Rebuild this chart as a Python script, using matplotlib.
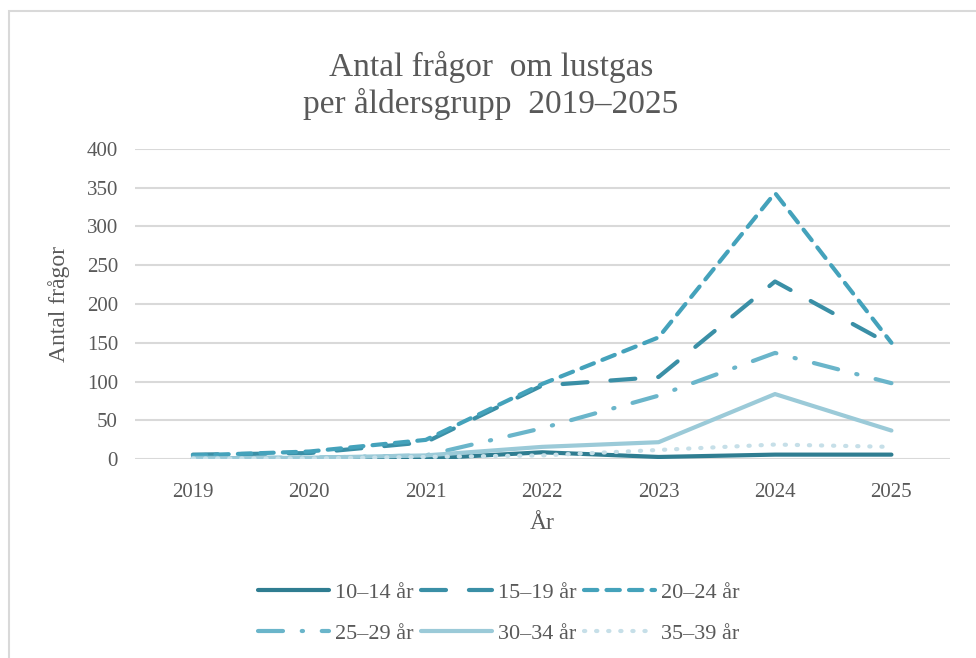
import matplotlib
matplotlib.use("Agg")
import matplotlib.pyplot as plt
from matplotlib.patches import Rectangle

years = ["2019", "2020", "2021", "2022", "2023", "2024", "2025"]
labels = ["10–14 år", "15–19 år", "20–24 år", "25–29 år", "30–34 år", "35–39 år"]
age_10_14 = [1, 1, 1, 9, 3, 6, 6]
age_15_19 = [6, 8, 22, 95, 106, 229, 147]
age_20_24 = [5, 10, 25, 97, 157, 343, 150]
age_25_29 = [2, 2, 5, 40, 82, 137, 98]
age_30_34 = [1, 2, 5, 16, 22, 84, 37]
age_35_39 = [1, 1, 3, 5, 12, 19, 16]
series = [age_10_14, age_15_19, age_20_24, age_25_29, age_30_34, age_35_39]

colors = ["#2f7d91", "#3a8fa6", "#44a2bb", "#6ab5ca", "#9bcad8", "#c6dfe8"]
styles = ["-", (0, (6, 5.5)), (0, (3.2, 2.2)), (0, (6, 4.5, 0.3, 4.5)), "-", (0, (0.3, 2.6))]

plt.rcParams["font.family"] = ["Liberation Serif", "DejaVu Serif"]
fig = plt.figure(figsize=(9.76, 6.58), dpi=100)
ax = fig.add_axes([0.138, 0.302, 0.835, 0.472])

x = list(range(len(years)))
handles = []
for vals, lab, c, ls in zip(series, labels, colors, styles):
    h, = ax.plot(x, vals, color=c, lw=3, linestyle=ls, label=lab,
                 dash_capstyle="round", solid_capstyle="round", solid_joinstyle="round")
    handles.append(h)

ax.set_xlim(-0.5, 6.5)
ax.set_ylim(0, 400)
ax.set_yticks(range(0, 401, 50))
ax.set_xticks(x)
ax.set_xticklabels(years)
ax.tick_params(length=0, labelsize=15, colors="#595959")
ax.tick_params(axis="x", pad=17)
ax.tick_params(axis="y", pad=12)
ax.yaxis.grid(True, color="#d9d9d9", lw=1.5)
ax.set_axisbelow(True)
for s in ax.spines.values():
    s.set_visible(False)
ax.set_xlabel("År", fontsize=17, color="#595959", labelpad=8)
ax.set_ylabel("Antal frågor", fontsize=17, color="#595959", labelpad=12)

fig.text(0.503, 0.87, "Antal frågor  om lustgas\nper åldersgrupp  2019–2025", ha="center", va="center",
         fontsize=24, color="#595959", linespacing=1.17)

order = [0, 3, 1, 4, 2, 5]
leg = fig.legend([handles[i] for i in order], [labels[i] for i in order],
                 loc="center", bbox_to_anchor=(0.511, 0.068), ncol=3, frameon=False,
                 fontsize=16, handlelength=3.2, columnspacing=0.35, handletextpad=0.25,
                 labelcolor="#595959", labelspacing=0.9)

fig.patches.append(Rectangle((9 / 976, -0.1), 1.2, 1 - 11 / 658 + 0.1, transform=fig.transFigure,
                             fill=False, edgecolor="#d9d9d9", lw=1.5))

fig.savefig("out.png", dpi=100)
